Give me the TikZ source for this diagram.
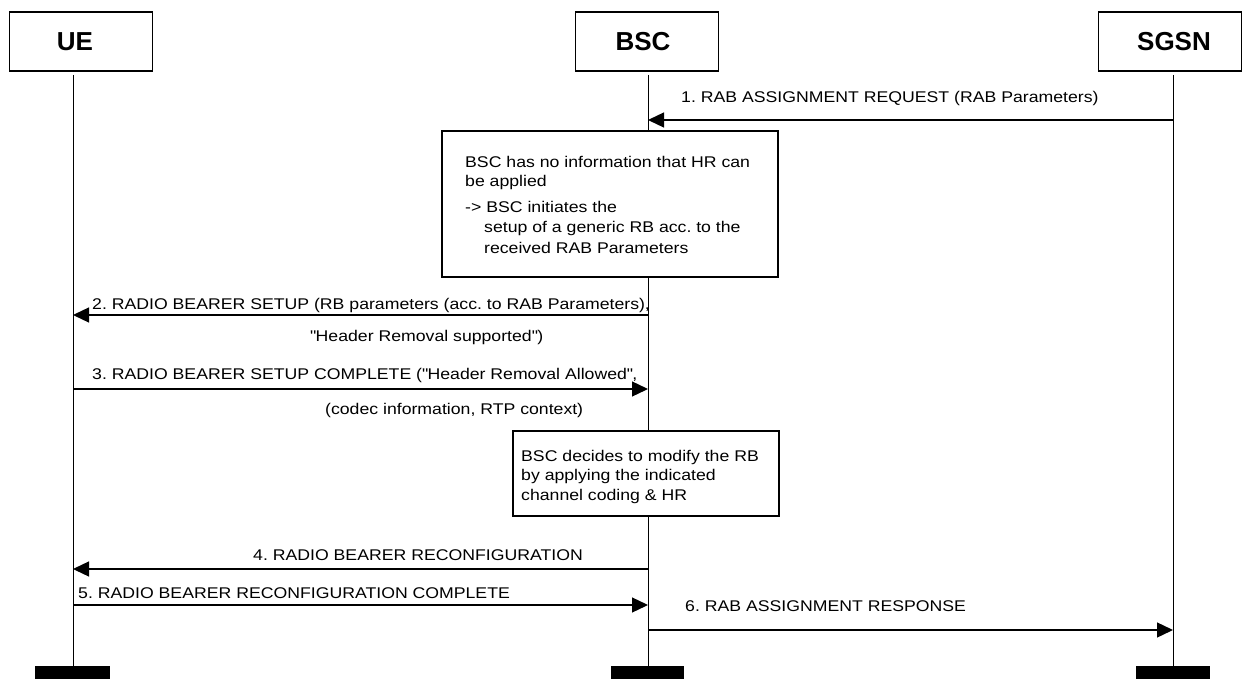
\documentclass[tikz,border=0pt]{standalone}
\usepackage{fontspec}
\setmainfont{Liberation Sans}[FakeStretch=1.14]
\newfontfamily\entityfont{Liberation Sans}
\usetikzlibrary{arrows.meta}
\begin{document}
\frenchspacing
\begin{tikzpicture}[x=1pt,y=-1pt,
  entity/.style={draw,line width=1.3pt,minimum width=143pt,minimum height=59pt},
  entitytext/.style={font=\entityfont\fontsize{26}{28}\selectfont\bfseries,inner sep=0pt},
  lifeline/.style={line width=1pt},
  endbar/.style={fill=black},
  msg/.style={line width=1.3pt,-{Triangle[length=16pt,width=15pt]}},
  lbl/.style={font=\fontsize{15.5}{18}\selectfont,inner sep=0pt,anchor=base west},
  note/.style={draw,line width=1.1pt,fill=white}]
\useasboundingbox (0,0) rectangle (1242,679);

% entities
\node[entity] (ue) at (81,41.5) {};
\node[entity] (bsc) at (647,41.5) {};
\node[entity] (sgsn) at (1170,41.5) {};
\node[entitytext] (uet) at (75,41.5) {UE};
\node[entitytext] (bsct) at (643,41.5) {BSC};
\node[entitytext] (sgsnt) at (1174,41.5) {SGSN};

% lifelines
\coordinate (ueT) at (73,75);   \coordinate (ueB) at (73,679);
\coordinate (bscT) at (648,75); \coordinate (bscB) at (648,679);
\coordinate (sgT) at (1173,75); \coordinate (sgB) at (1173,679);
\draw[lifeline] (ueT) -- (ueB);
\draw[lifeline] (bscT) -- (bscB);
\draw[lifeline] (sgT) -- (sgB);

% end bars
\fill[endbar] (35,666) rectangle (110,679);
\fill[endbar] (611,666) rectangle (684,679);
\fill[endbar] (1136,666) rectangle (1210,679);

% 1
\coordinate (m1s) at (1173,120); \coordinate (m1e) at (648,120);
\node[lbl] (l1) at (681,103) {1. RAB ASSIGNMENT REQUEST (RAB Parameters)};
\draw[msg] (m1s) -- (m1e);

% note 1
\draw[note] (442,131) rectangle (778,277);
\node[lbl] (n1a) at (465,168) {BSC has no information that HR can};
\node[lbl] (n1b) at (465,187) {be applied};
\node[lbl] (n1c) at (465,212) {-> BSC initiates the};
\node[lbl] (n1d) at (484,233) {setup of a generic RB acc. to the};
\node[lbl] (n1e) at (484,253) {received RAB Parameters};

% 2
\coordinate (m2s) at (648,315); \coordinate (m2e) at (73,315);
\node[lbl] (l2) at (92,309) {2. RADIO BEARER SETUP (RB parameters (acc. to RAB Parameters),};
\node[lbl] (l2b) at (310,341) {\textquotedbl Header Removal supported\textquotedbl)};
\draw[msg] (m2s) -- (m2e);

% 3
\coordinate (m3s) at (73,389); \coordinate (m3e) at (648,389);
\node[lbl] (l3) at (92,379) {3. RADIO BEARER SETUP COMPLETE (\textquotedbl Header Removal Allowed\textquotedbl,};
\node[lbl] (l3b) at (325,414) {(codec information, RTP context)};
\draw[msg] (m3s) -- (m3e);

% note 2
\draw[note] (513,431) rectangle (779,516);
\node[lbl] (n2a) at (521,461) {BSC decides to modify the RB};
\node[lbl] (n2b) at (521,480) {by applying the indicated};
\node[lbl] (n2c) at (521,500) {channel coding \& HR};

% 4
\coordinate (m4s) at (648,569); \coordinate (m4e) at (73,569);
\node[lbl] (l4) at (253,560) {4. RADIO BEARER RECONFIGURATION};
\draw[msg] (m4s) -- (m4e);

% 5
\coordinate (m5s) at (73,605); \coordinate (m5e) at (648,605);
\node[lbl] (l5) at (78,598) {5. RADIO BEARER RECONFIGURATION COMPLETE};
\draw[msg] (m5s) -- (m5e);

% 6
\coordinate (m6s) at (648,630); \coordinate (m6e) at (1173,630);
\node[lbl] (l6) at (685,611) {6. RAB ASSIGNMENT RESPONSE};
\draw[msg] (m6s) -- (m6e);
\end{tikzpicture}
\end{document}
